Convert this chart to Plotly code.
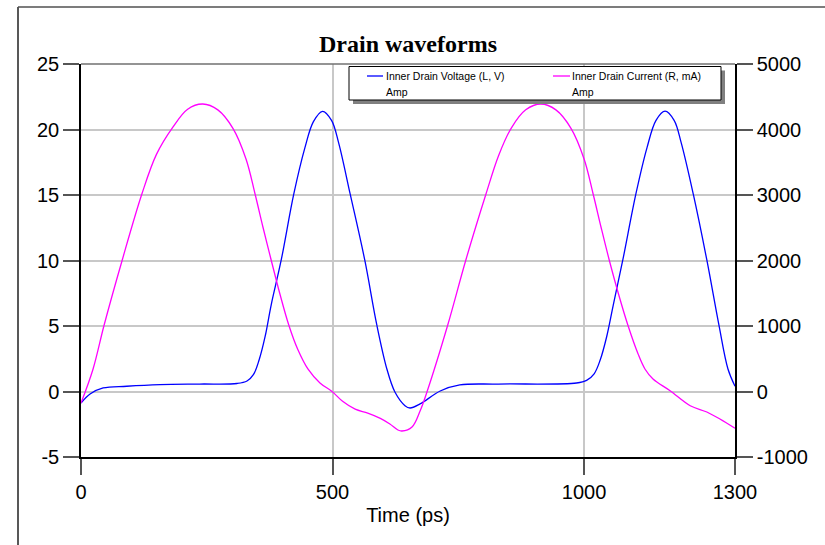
import plotly.graph_objects as go

# Inner drain voltage (left axis, V)
t_voltage = [0, 18, 44, 91, 157, 236, 310, 330, 343, 354, 366, 378, 398, 423,
             445, 462, 480, 498, 512, 535, 564, 588, 608, 624, 644, 654, 674,
             714, 753, 829, 985, 1005, 1020, 1032, 1045, 1058, 1077, 1103, 1125,
             1143, 1161, 1179, 1193, 1217, 1244, 1268, 1286, 1300]
voltage = [-0.88, -0.19, 0.27, 0.40, 0.52, 0.57, 0.61, 0.80, 1.30, 2.40, 4.20,
           6.60, 10.04, 15.08, 18.60, 20.60, 21.39, 20.70, 19.00, 15.08, 10.04,
           5.08, 1.72, -0.04, -1.08, -1.26, -0.95, 0.04, 0.50, 0.57, 0.65, 0.85,
           1.35, 2.40, 4.20, 6.60, 10.04, 15.08, 18.60, 20.70, 21.40, 20.70,
           19.00, 15.08, 10.04, 5.08, 1.72, 0.40]

# Inner drain current (right axis, mA)
t_current = [0, 24, 46, 82, 121, 150, 183, 212, 242, 272, 302, 328, 346, 362,
             378, 395, 413, 431, 451, 475, 499, 520, 545, 570, 595, 614, 630, 638,
             658, 674, 688, 729, 765, 805, 830, 855, 884, 914, 944, 974, 1000,
             1018, 1034, 1050, 1068, 1087, 1107, 1121, 1137, 1171, 1211, 1244,
             1270, 1300]
current = [-176, 344, 1015, 2008, 3015, 3620, 4040, 4310, 4389, 4300, 4018,
           3550, 3015, 2500, 2008, 1500, 1015, 640, 344, 130, 0, -150, -270,
           -330, -410, -496, -588, -603, -542, -298, 0, 1015, 2008, 3015, 3600,
           4018, 4300, 4389, 4300, 4018, 3550, 3015, 2500, 2008, 1500, 1015, 580,
           344, 191, 12, -217, -313, -420, -562]

x_ticks = [0, 500, 1000, 1300]
y_left_ticks = [-5, 0, 5, 10, 15, 20, 25]
y_right_ticks = [-1000, 0, 1000, 2000, 3000, 4000, 5000]

legend_names = ["Inner Drain Voltage (L, V)", "Inner Drain Current (R, mA)"]
legend_sub = "Amp"
title_text = "Drain waveforms"
x_title = "Time (ps)"

BLUE = "#0000ff"
MAGENTA = "#ff00ff"

# plot-area geometry in pixels (for paper-coordinate helpers)
W, H = 825, 545
L, R, T, B = 81, 735, 64, 457


def px(xp):
    return (xp - L) / (R - L)


def py(yp):
    return (B - yp) / (B - T)


def label(v):
    # plain hyphen for negative numbers
    return str(v)


fig = go.Figure()
fig.add_trace(go.Scatter(x=t_voltage, y=voltage, mode="lines",
                         line=dict(color=BLUE, width=1.3, shape="spline", smoothing=1.0),
                         name=legend_names[0], showlegend=False))
fig.add_trace(go.Scatter(x=t_current, y=current, mode="lines", yaxis="y2",
                         line=dict(color=MAGENTA, width=1.3, shape="spline", smoothing=1.0),
                         name=legend_names[1], showlegend=False))

tick_font = dict(family="Liberation Sans, Arial, sans-serif", size=20, color="black")

fig.update_layout(
    width=W, height=H,
    margin=dict(l=L, r=W - R, t=T, b=H - B, pad=0),
    paper_bgcolor="white", plot_bgcolor="white",
    title=dict(text="<b>%s</b>" % title_text, x=px(408), xref="paper", xanchor="center",
               y=1 - 44 / H, yanchor="middle",
               font=dict(family="Liberation Serif, Times New Roman, serif", size=24, color="black")),
    xaxis=dict(range=[0, 1300], tickvals=x_ticks, ticktext=[label(v) for v in x_ticks],
               showgrid=True, gridcolor="#c8c8c8", gridwidth=1.5,
               showline=True, linecolor="black", linewidth=1.5,
               ticks="outside", ticklen=16, tickcolor="#555555", tickwidth=1.5,
               tickfont=tick_font, zeroline=False,
               title=dict(text=x_title, font=dict(family="Liberation Sans, Arial, sans-serif",
                                                  size=20, color="black"), standoff=6)),
    yaxis=dict(range=[-5, 25], tickvals=y_left_ticks, ticktext=[label(v) for v in y_left_ticks],
               showgrid=True, gridcolor="#c8c8c8", gridwidth=1.5,
               showline=True, linecolor="black", linewidth=1.5,
               ticks="outside", ticklen=16, tickcolor="#555555", tickwidth=1.5,
               tickfont=tick_font, zeroline=False),
    yaxis2=dict(range=[-1000, 5000], tickvals=y_right_ticks,
                ticktext=[label(v) for v in y_right_ticks], overlaying="y", side="right",
                showgrid=False, showline=True, linecolor="black", linewidth=1.5,
                ticks="outside", ticklen=16, tickcolor="#555555", tickwidth=1.5,
                tickfont=tick_font, zeroline=False),
)

shapes = []
# top frame line of the plot area
shapes.append(dict(type="line", xref="paper", yref="paper", x0=0, x1=1, y0=1, y1=1,
                   line=dict(color="#707070", width=1.5)))
# outer page border
shapes.append(dict(type="line", xref="paper", yref="paper", x0=px(18), x1=px(18),
                   y0=py(7), y1=py(560), line=dict(color="#202020", width=1.5)))
shapes.append(dict(type="line", xref="paper", yref="paper", x0=px(18), x1=px(840),
                   y0=py(7), y1=py(7), line=dict(color="#505050", width=1.5)))
# legend box with drop shadow
shapes.append(dict(type="rect", xref="paper", yref="paper", x0=px(353), x1=px(725),
                   y0=py(104), y1=py(70.5), fillcolor="#808080", line=dict(width=0),
                   layer="above"))
shapes.append(dict(type="rect", xref="paper", yref="paper", x0=px(349), x1=px(721),
                   y0=py(100), y1=py(66.5), fillcolor="white",
                   line=dict(color="black", width=1), layer="above"))
# legend line samples
for (x0, x1), col in (((367, 383), BLUE), ((553, 570), MAGENTA)):
    shapes.append(dict(type="line", xref="paper", yref="paper", x0=px(x0), x1=px(x1),
                       y0=py(76), y1=py(76), line=dict(color=col, width=1.3), layer="above"))
fig.update_layout(shapes=shapes)

leg_font = dict(family="Liberation Sans, Arial, sans-serif", size=10.5, color="black")
annotations = []
for name, xl in ((legend_names[0], 384), (legend_names[1], 570)):
    annotations.append(dict(text=name, xref="paper", yref="paper", x=px(xl), y=py(76),
                            xanchor="left", yanchor="middle", showarrow=False, font=leg_font))
    annotations.append(dict(text=legend_sub, xref="paper", yref="paper", x=px(xl), y=py(91.5),
                            xanchor="left", yanchor="middle", showarrow=False, font=leg_font))
fig.update_layout(annotations=annotations)

fig.write_html("out.html")
